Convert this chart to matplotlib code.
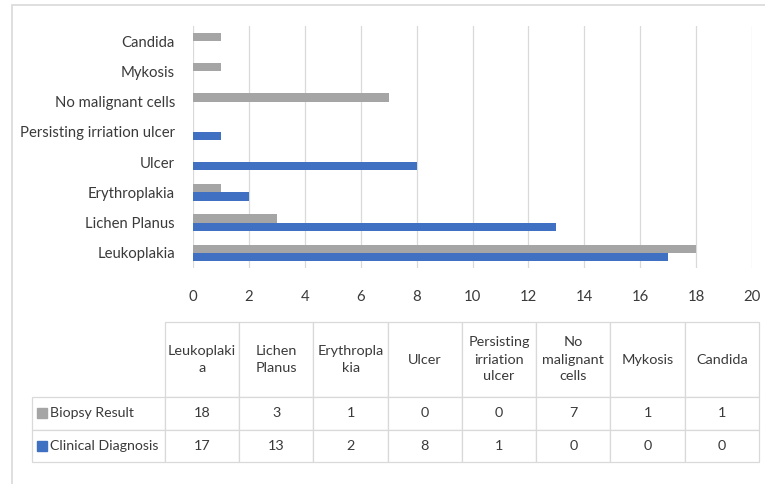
import matplotlib
matplotlib.use('Agg')
import matplotlib.pyplot as plt
from matplotlib.table import Table
from matplotlib.patches import Rectangle
import numpy as np

plt.rcParams['font.family'] = ['Lato', 'DejaVu Sans']

categories = ['Leukoplakia', 'Lichen Planus', 'Erythroplakia', 'Ulcer',
              'Persisting irriation ulcer', 'No malignant cells', 'Mykosis', 'Candida']
table_headers = ['Leukoplaki\na', 'Lichen\nPlanus', 'Erythropla\nkia', 'Ulcer',
                 'Persisting\nirriation\nulcer', 'No\nmalignant\ncells', 'Mykosis', 'Candida']
biopsy = [18, 3, 1, 0, 0, 7, 1, 1]
clinical = [17, 13, 2, 8, 1, 0, 0, 0]
series_names = ['Biopsy Result', 'Clinical Diagnosis']
series_colors = ['#A5A5A5', '#4070C2']

W, H = 765, 484
fig = plt.figure(figsize=(W / 100, H / 100), dpi=100)

def fbox(x0, y0, x1, y1):
    return [x0 / W, 1 - y1 / H, (x1 - x0) / W, (y1 - y0) / H]

# light frame around chart
fig.patches.append(Rectangle((12 / W, -0.1), 1.1, 1 - 5 / H + 0.1, transform=fig.transFigure,
                             fill=False, edgecolor='#D9D9D9', lw=1.2))

ax = fig.add_axes(fbox(193, 26, 752, 268))
y = np.arange(len(categories))
h = 0.27
ax.barh(y + h / 2, biopsy, height=h, color=series_colors[0])
ax.barh(y - h / 2, clinical, height=h, color=series_colors[1])
ax.set_ylim(-0.5, len(categories) - 0.5)
ax.set_xlim(0, 20)
ax.set_xticks(range(0, 21, 2))
ax.set_yticks(y)
ax.set_yticklabels(categories)
ax.grid(axis='x', color='#D9D9D9', lw=0.9)
ax.set_axisbelow(True)
for s in ax.spines.values():
    s.set_visible(False)
ax.tick_params(axis='both', length=0, labelsize=10.7, labelcolor='#3A3A3A')
ax.tick_params(axis='x', pad=16)
ax.tick_params(axis='y', pad=13)

# data table
tax = fig.add_axes(fbox(32, 322, 759, 462))
tax.axis('off')
tbl = Table(tax, bbox=[0, 0, 1, 1])
lab_w, col_w = 133, 74.3
head_h, row_h = 75, 32.5
edge = '#D9D9D9'
c = tbl.add_cell(0, 0, lab_w, head_h, text='')
c.visible_edges = ''
for j, name in enumerate(table_headers):
    c = tbl.add_cell(0, j + 1, col_w, head_h, text=name, loc='center')
    c.set_edgecolor(edge)
for i, vals in enumerate([biopsy, clinical]):
    c = tbl.add_cell(i + 1, 0, lab_w, row_h, text='')
    c.set_edgecolor(edge)
    for j, v in enumerate(vals):
        c = tbl.add_cell(i + 1, j + 1, col_w, row_h, text=str(v), loc='center')
        c.set_edgecolor(edge)
tbl.auto_set_font_size(False)
tbl.set_fontsize(10.4)
for cell in tbl.get_celld().values():
    cell.get_text().set_color('#3A3A3A')
    cell.get_text().set_linespacing(1.5)
    cell.set_linewidth(0.9)
tax.add_table(tbl)

tot_w = lab_w + 8 * col_w
tot_h = head_h + 2 * row_h
for i, (name, col) in enumerate(zip(series_names, series_colors)):
    yc = (tot_h - head_h - row_h * (i + 0.5)) / tot_h
    tax.add_patch(Rectangle((5 / tot_w, yc - 5 / tot_h), 10 / tot_w, 10 / tot_h,
                            color=col, transform=tax.transAxes))
    tax.text(18 / tot_w, yc, name, transform=tax.transAxes, va='center', ha='left',
             fontsize=10.2, color='#3A3A3A')

fig.savefig('out.png', dpi=100)
